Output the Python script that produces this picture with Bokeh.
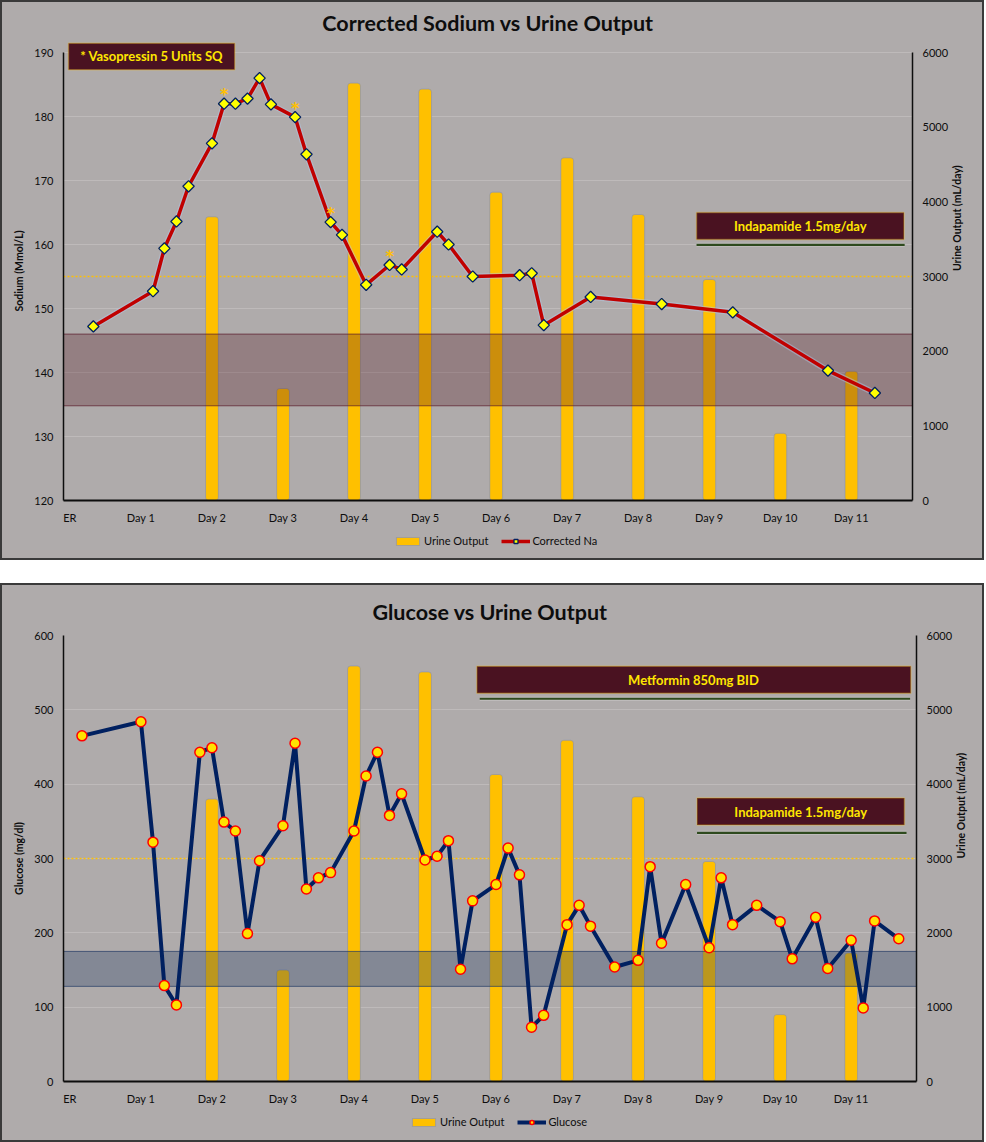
import numpy as np
from bokeh.plotting import figure
from bokeh.models import (Range1d, LinearAxis, FixedTicker, Span, BoxAnnotation,
                          Label, Legend, LegendItem, Spacer, Grid)
from bokeh.layouts import column, row
from bokeh.embed import file_html
from bokeh.resources import INLINE
from bokeh.core.properties import value

# ---------------- data ----------------
TICK_LABELS = ["ER", "Day 1", "Day 2", "Day 3", "Day 4", "Day 5", "Day 6",
               "Day 7", "Day 8", "Day 9", "Day 10", "Day 11"]
TICK_DAYS = list(range(len(TICK_LABELS)))

URINE_DAYS = [2, 3, 4, 5, 6, 7, 8, 9, 10, 11]
URINE_OUTPUT = [3800, 1500, 5590, 5510, 4130, 4590, 3830, 2960, 900, 1730]
URINE_TICKS = [0, 1000, 2000, 3000, 4000, 5000, 6000]
UO_THRESHOLD = 3000

NA_DAYS = [0.33, 1.17, 1.33, 1.5, 1.67, 2.0, 2.17, 2.33, 2.5, 2.67, 2.83,
           3.17, 3.33, 3.67, 3.83, 4.17, 4.5, 4.67, 5.17, 5.33, 5.67,
           6.33, 6.5, 6.67, 7.33, 8.33, 9.33, 10.67, 11.33]
NA_VALUES = [147.2, 152.7, 159.4, 163.6, 169.1, 175.8, 182.0, 182.0, 182.8,
             186.0, 181.9, 179.9, 174.1, 163.5, 161.5, 153.7, 156.8, 156.1,
             162.0, 160.0, 155.0, 155.2, 155.5, 147.4, 151.8, 150.7, 149.4,
             140.3, 136.8]
VASO_IDX = [6, 11, 13, 16]          # vasopressin doses (marked *)
NA_TICKS = [120, 130, 140, 150, 160, 170, 180, 190]
NA_NORMAL = (134.8, 146.0)

GLU_DAYS = [0.17, 1.0, 1.17, 1.33, 1.5, 1.83, 2.0, 2.17, 2.33, 2.5, 2.67,
            3.0, 3.17, 3.33, 3.5, 3.67, 4.0, 4.17, 4.33, 4.5, 4.67, 5.0,
            5.17, 5.33, 5.5, 5.67, 6.0, 6.17, 6.33, 6.5, 6.67, 7.0, 7.17,
            7.33, 7.67, 8.0, 8.17, 8.33, 8.67, 9.0, 9.17, 9.33, 9.67, 10.0,
            10.17, 10.5, 10.67, 11.0, 11.17, 11.33, 11.67]
GLU_VALUES = [465, 484, 322, 129, 103, 443, 449, 349, 337, 199, 297, 344,
              455, 259, 274, 281, 337, 411, 443, 358, 387, 298, 303, 324,
              151, 243, 265, 314, 278, 73, 89, 211, 237, 209, 154, 163, 289,
              186, 265, 180, 274, 211, 237, 215, 165, 221, 152, 190, 99, 216,
              192]
GLU_TICKS = [0, 100, 200, 300, 400, 500, 600]
GLU_TARGET = (128, 175)

# ---------------- style ----------------
FONT = "Lato"
BG = "#AFABAB"
BAR = "#FFC000"
BOX_FILL = "#4A1221"
BOX_TEXT = "#FFE600"
GREEN = "#2E4A1E"
FRAME_H = 448            # height (px) of the axis span
PANEL = {"box-shadow": "0 0 0 2px #3A3A3A", "background-color": BG}
W = 980

BAR_STYLE = dict(fill_color=BAR, line_color="#8090C0", line_alpha=0.6, line_width=1)
NA_LINE = dict(line_color="#C00000", line_width=3.5)
NA_PTS = dict(marker="square", angle=np.pi / 4, size=8, fill_color="#FFFF00",
              line_color="#002060", line_width=1.3)
GLU_LINE = dict(line_color="#002060", line_width=4)
GLU_PTS = dict(marker="circle", size=10, fill_color="#FFE100", line_color="#FF0000",
               line_width=1.5)


def make_fig(title, height, x_end, y_lo, y_hi, y_ticks, y_label, b_top, b_right,
             title_standoff, pad_px):
    # pad_px: extra frame room above the top tick (axis line stays bounded)
    y_top = y_hi + (y_hi - y_lo) * pad_px / FRAME_H
    u_top = URINE_TICKS[-1] * (1 + pad_px / FRAME_H)
    p = figure(width=W, height=height, output_backend="svg", toolbar_location=None,
               x_range=Range1d(-0.09, x_end), y_range=Range1d(y_lo, y_top),
               min_border_left=61, min_border_right=b_right,
               min_border_top=b_top, min_border_bottom=26,
               background_fill_color=BG, border_fill_color=None,
               outline_line_color=None)
    p.extra_y_ranges = {"urine": Range1d(0, u_top)}
    p.title.text = title
    p.title.text_font = FONT
    p.title.text_font_size = "21.5px"
    p.title.text_font_style = "bold"
    p.title.text_color = "#0D0D0D"
    p.title.align = "center"
    p.title.standoff = title_standoff

    p.xgrid.visible = False
    p.ygrid.grid_line_color = "#BEBABA"
    p.ygrid.grid_line_width = 1

    xa = p.xaxis[0]
    xa.ticker = FixedTicker(ticks=TICK_DAYS)
    xa.major_label_overrides = {d: lab for d, lab in zip(TICK_DAYS, TICK_LABELS)}
    ya = p.yaxis[0]
    ya.ticker = FixedTicker(ticks=y_ticks)
    ya.axis_label = y_label
    ya.bounds = (y_lo, y_hi)
    ra = LinearAxis(y_range_name="urine", ticker=FixedTicker(ticks=URINE_TICKS),
                    axis_label="Urine Output (mL/day)",
                    bounds=(URINE_TICKS[0], URINE_TICKS[-1]))
    p.add_layout(ra, "right")
    for ax in (xa, ya, ra):
        ax.major_tick_line_color = None
        ax.minor_tick_line_color = None
        ax.major_tick_out = 0
        ax.major_tick_in = 0
        ax.minor_tick_out = 0
        ax.minor_tick_in = 0
        ax.major_label_text_font = FONT
        ax.major_label_text_font_size = "11px"
        ax.major_label_text_color = "#0D0D0D"
        ax.major_label_standoff = 10
        ax.axis_label_text_font = FONT
        ax.axis_label_text_font_size = "10.5px"
        ax.axis_label_text_font_style = "bold"
        ax.axis_label_text_color = "#0D0D0D"
        ax.axis_label_standoff = 6
        ax.axis_line_color = "#0D0D0D"
        ax.axis_line_width = 1.5
    xa.axis_line_width = 2.2
    try:
        ra.axis_label_orientation = np.pi / 2     # read bottom-to-top like Excel
    except Exception:
        pass

    p.add_layout(Span(location=UO_THRESHOLD, dimension="width", y_range_name="urine",
                      line_color=BAR, line_dash="2 2", line_width=1.5, level="underlay"))

    bars = p.vbar(x=URINE_DAYS, top=URINE_OUTPUT, bottom=0, width=0.18,
                  y_range_name="urine", **BAR_STYLE)
    try:
        bars.glyph.border_radius = 3
    except Exception:
        pass
    return p


def text_box(p, left, right, bottom, top, text, cx, cy):
    p.add_layout(BoxAnnotation(left=left, right=right, bottom=bottom, top=top,
                               fill_color=BOX_FILL, fill_alpha=1.0,
                               line_color=BAR, line_width=1.5))
    p.add_layout(Label(x=cx, y=cy, text=text, text_font=FONT, text_font_size="13px",
                       text_font_style="bold", text_color=BOX_TEXT,
                       text_align="center", text_baseline="middle"))


def under_line(p, x0, x1, y):
    p.line(x=[x0, x1], y=[y, y], line_color="#D8D8D8", line_width=4, line_alpha=0.5)
    p.line(x=[x0, x1], y=[y, y], line_color=GREEN, line_width=2.2)


def legend_strip(height, vx, vy, series_label, line_style, pts_style):
    """A thin strip under a chart that carries its legend (swatch-only renderers
    sit outside the visible range)."""
    lf = figure(width=W, height=height, output_backend="svg", toolbar_location=None,
                x_range=Range1d(0, 1), y_range=Range1d(0, 1),
                x_axis_location=None, y_axis_location=None,
                min_border=0, min_border_left=0, min_border_right=0,
                min_border_top=0, min_border_bottom=0,
                background_fill_color=None, border_fill_color=None,
                outline_line_color=None)
    lf.center = [c for c in lf.center if not isinstance(c, Grid)]
    off = [-5.0]
    rb = lf.vbar(x=off, top=off, bottom=off, width=0.1, **BAR_STYLE)
    rl = lf.line(x=off + off, y=off + off, **line_style)
    rp = lf.scatter(x=off, y=off, **pts_style)
    lf.add_layout(Legend(items=[LegendItem(label="Urine Output", renderers=[rb]),
                                LegendItem(label=series_label, renderers=[rl, rp])],
                         location=(vx, vy), orientation="horizontal",
                         background_fill_alpha=0, border_line_color=None, padding=0,
                         margin=0, spacing=13, glyph_width=29, glyph_height=10,
                         label_standoff=2, label_text_font=FONT,
                         label_text_color="#0D0D0D",
                         label_text_font_size="11px", label_height=12))
    return lf


# ---------------- top chart ----------------
p1 = make_fig("Corrected Sodium vs Urine Output", 524, 11.86, 120, 190, NA_TICKS,
              "Sodium (Mmol/L)", 39, 70, 11, 11)
p1.quad(left=p1.x_range.start, right=p1.x_range.end, bottom=NA_NORMAL[0], top=NA_NORMAL[1],
        fill_color="#551B26", fill_alpha=0.3, line_color="#5A1A2A", line_alpha=0.7,
        line_width=1)
p1.line(NA_DAYS, NA_VALUES, line_color="#B4C7E7", line_width=6, line_alpha=0.45)
p1.line(NA_DAYS, NA_VALUES, **NA_LINE)
p1.scatter(NA_DAYS, NA_VALUES, **NA_PTS)
p1.text(x=[NA_DAYS[i] for i in VASO_IDX], y=[NA_VALUES[i] + 1.4 for i in VASO_IDX],
        text=["*"] * len(VASO_IDX), text_font=value("DejaVu Sans"),
        text_font_size="16px", text_font_style="bold",
        text_color=BAR, text_align="center", text_baseline="middle")

text_box(p1, -0.02, 2.32, 187.3, 191.45, "* Vasopressin 5 Units SQ", 1.15, 189.4)
text_box(p1, 8.82, 11.74, 160.8, 165.0, "Indapamide 1.5mg/day", 10.28, 162.9)
under_line(p1, 8.82, 11.75, 159.95)

lf1 = legend_strip(32, 330, 11, "Corrected Na", NA_LINE, NA_PTS)

# ---------------- bottom chart ----------------
p2 = make_fig("Glucose vs Urine Output", 522, 11.92, 0, 600, GLU_TICKS,
              "Glucose (mg/dl)", 48, 66, 22, 0)
p2.quad(left=p2.x_range.start, right=p2.x_range.end, bottom=GLU_TARGET[0], top=GLU_TARGET[1],
        fill_color="#1F3864", fill_alpha=0.3, line_color="#1F3864", line_alpha=0.7,
        line_width=1)
p2.line(GLU_DAYS, GLU_VALUES, **GLU_LINE)
p2.scatter(GLU_DAYS, GLU_VALUES, **GLU_PTS)

text_box(p2, 5.73, 11.84, 522.3, 558.5, "Metformin 850mg BID", 8.78, 540.4)
under_line(p2, 5.77, 11.83, 514.9)
text_box(p2, 8.83, 11.75, 344.9, 381.4, "Indapamide 1.5mg/day", 10.29, 363.0)
under_line(p2, 8.83, 11.78, 334.6)

lf2 = legend_strip(33, 346, 12, "Glucose", GLU_LINE, GLU_PTS)

top_block = column(p1, lf1, spacing=0, styles=PANEL)
bot_block = column(p2, lf2, spacing=0, styles=PANEL)
layout = row(Spacer(width=2, height=10),
             column(Spacer(width=10, height=2), top_block, Spacer(width=10, height=27),
                    bot_block))
open("out.html", "w").write(file_html(layout, INLINE))
